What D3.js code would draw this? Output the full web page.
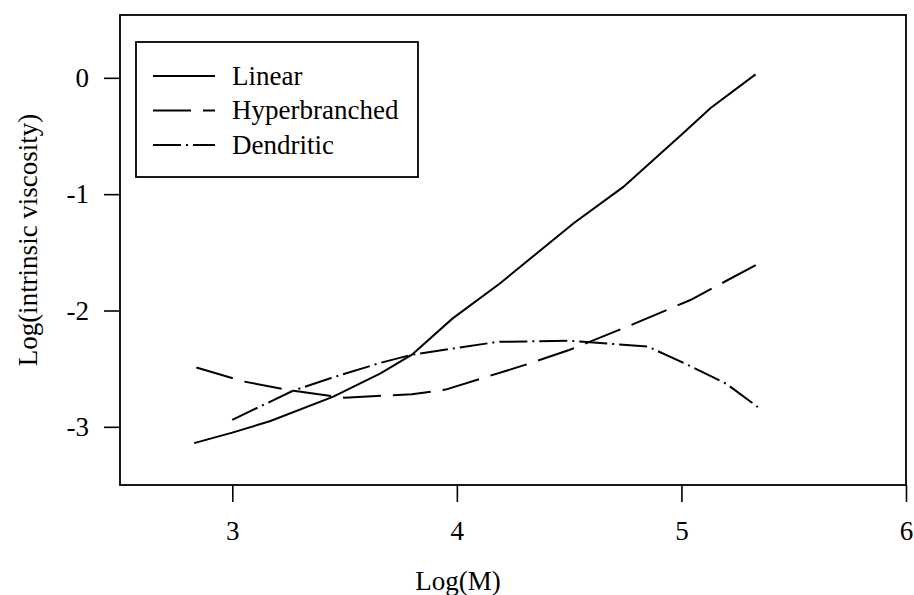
<!DOCTYPE html>
<html lang="en">
<head>
    <meta charset="UTF-8">
    <title>Intrinsic viscosity</title>
    <style>
        body {
            margin: 0;
            background: #fff;
        }

        svg text {
            font-family: 'Liberation Serif', 'Times New Roman', serif;
            font-size: 27px;
            fill: #000;
        }

        .axis line {
            stroke: #000;
            stroke-width: 1.6px;
        }

        .axis path {
            display: none;
        }
    </style>
</head>
<body>
    <div id="chart"></div>
</body>
</html>
<script src="https://cdnjs.cloudflare.com/ajax/libs/d3/7.8.5/d3.min.js"></script>
<script>
    // values (log M, log intrinsic viscosity)
    const seriesNames = ['Linear', 'Hyperbranched', 'Dendritic'];

    const linearX = [2.83, 3.0, 3.17, 3.45, 3.66, 3.8, 3.98, 4.19, 4.52, 4.74, 5.0, 5.13, 5.33];
    const linearY = [-3.14, -3.05, -2.95, -2.74, -2.54, -2.38, -2.07, -1.77, -1.25, -0.94, -0.49, -0.26, 0.03];

    const hyperX = [2.84, 3.05, 3.27, 3.5, 3.8, 3.95, 4.1, 4.3, 4.5, 4.77, 5.04, 5.34];
    const hyperY = [-2.49, -2.61, -2.69, -2.75, -2.72, -2.68, -2.59, -2.47, -2.34, -2.13, -1.91, -1.6];

    const dendX = [3.0, 3.27, 3.44, 3.66, 3.8, 4.18, 4.5, 4.85, 5.02, 5.2, 5.34];
    const dendY = [-2.94, -2.69, -2.58, -2.45, -2.38, -2.27, -2.26, -2.31, -2.46, -2.63, -2.83];

    const xTicks = [3, 4, 5, 6];
    const yTicks = [0, -1, -2, -3];

    const xTitle = 'Log(M)';
    const yTitle = 'Log(intrinsic viscosity)';

    const W = 914, H = 595;
    const plot = { left: 120, right: 906, top: 15, bottom: 485 };
    const dashes = ['none', '38,12', '28,5,2,5'];
    const serif = "'Liberation Serif', 'Times New Roman', serif";

    const svg = d3.select('#chart').append('svg')
        .attr('width', W)
        .attr('height', H);

    const x = d3.scaleLinear().domain([2.5, 6]).range([plot.left, plot.right]);
    const y = d3.scaleLinear().domain([-3.5, 0.54]).range([plot.bottom, plot.top]);

    // axes (plain hyphen for negatives, as in the picture)
    const xAxis = svg.append('g')
        .attr('class', 'axis')
        .attr('transform', 'translate(0,' + plot.bottom + ')')
        .call(d3.axisBottom(x).tickValues(xTicks).tickSize(17).tickPadding(19).tickFormat(function (d) { return String(d); }));

    const yAxis = svg.append('g')
        .attr('class', 'axis')
        .attr('transform', 'translate(' + plot.left + ',0)')
        .call(d3.axisLeft(y).tickValues(yTicks).tickSize(16).tickPadding(15).tickFormat(function (d) { return String(d); }));

    svg.selectAll('.axis text')
        .style('font-family', serif)
        .style('font-size', '27px');

    // frame
    svg.append('rect')
        .attr('x', plot.left)
        .attr('y', plot.top)
        .attr('width', plot.right - plot.left)
        .attr('height', plot.bottom - plot.top)
        .attr('fill', 'none')
        .attr('stroke', '#000')
        .attr('stroke-width', 1.8);

    // titles
    svg.append('text')
        .attr('x', 458)
        .attr('y', 590)
        .attr('text-anchor', 'middle')
        .text(xTitle);

    svg.append('text')
        .attr('transform', 'translate(37,240) rotate(-90)')
        .attr('text-anchor', 'middle')
        .text(yTitle);

    // curves
    const series = [
        d3.zip(linearX, linearY),
        d3.zip(hyperX, hyperY),
        d3.zip(dendX, dendY)
    ];

    const line = d3.line()
        .x(function (d) { return x(d[0]); })
        .y(function (d) { return y(d[1]); });

    svg.selectAll('.curve')
        .data(series)
        .enter().append('path')
        .attr('class', 'curve')
        .attr('d', line)
        .attr('fill', 'none')
        .attr('stroke', '#000')
        .attr('stroke-width', 2)
        .attr('stroke-dasharray', function (d, i) { return dashes[i]; });

    // legend
    const legend = svg.append('g');
    legend.append('rect')
        .attr('x', 136)
        .attr('y', 42)
        .attr('width', 282)
        .attr('height', 135)
        .attr('fill', '#fff')
        .attr('stroke', '#000')
        .attr('stroke-width', 1.8);

    const item = legend.selectAll('.item')
        .data(seriesNames)
        .enter().append('g')
        .attr('transform', function (d, i) { return 'translate(0,' + (76 + i * 34.5) + ')'; });

    item.append('line')
        .attr('x1', 153)
        .attr('x2', 215)
        .attr('stroke', '#000')
        .attr('stroke-width', 2)
        .attr('stroke-dasharray', function (d, i) { return dashes[i]; });

    item.append('text')
        .attr('x', 232)
        .attr('dy', '0.33em')
        .text(function (d) { return d; });
</script>
